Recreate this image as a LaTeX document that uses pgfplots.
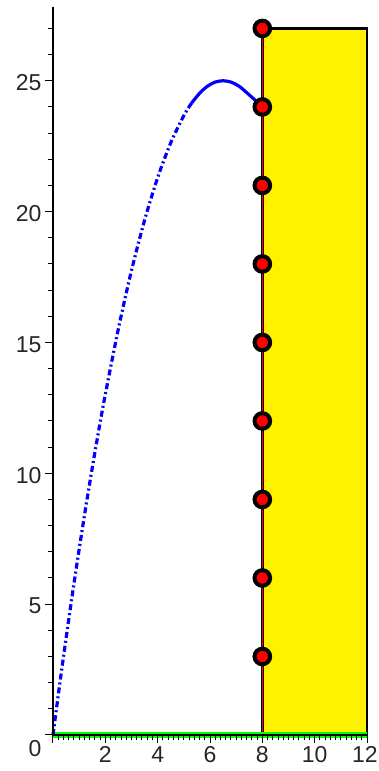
\documentclass[border=0pt]{standalone}
\usepackage{fontspec}
\setmainfont{Liberation Sans}
\usepackage{pgfplots}
\pgfplotsset{compat=1.18}
\begin{document}
\begin{tikzpicture}
\begin{axis}[
  at={(0,0)}, anchor=south west,
  scale only axis, width=314pt, height=727.5pt,
  xmin=0, xmax=12, ymin=0, ymax=27.8,
  axis lines=left, axis line style={-, line width=1.5pt},
  xtick={0,2,...,12}, xticklabels={,2,4,6,8,10,\hspace*{-4pt}12},
  ytick={0,5,...,25}, yticklabels={,5,10,15,20,25},
  minor xtick={0,0.2,...,12.1},
  minor ytick={0,1,...,27},
  extra y ticks={0}, extra y tick labels={0},
  extra y tick style={yticklabel style={yshift=-12pt}},
  yticklabel style={yshift=-2pt},
  tick align=outside, major tick length=8pt, minor tick length=5pt,
  tick style={black, line width=1pt},
  ticklabel style={font=\fontsize{23}{23}\selectfont, text=black!85},
  /pgf/number format/assume math mode=true,
  clip=false, axis on top,
]
\addplot[fill=yellow, draw=black, line width=2.5pt] coordinates {(8,0) (12,0) (12,27) (8,27) (8,0)};
\addplot[red, line width=1.6pt] coordinates {(8,0) (8,27)};
\addplot[color={rgb,255:red,0;green,255;blue,0}, line width=6.5pt] coordinates {(0,0) (12,0)};
\addplot[blue, line width=3.2pt, smooth, dash pattern=on 6pt off 3pt on 2pt off 3pt] coordinates {
(0,0) (0.25,1.89) (0.5,3.70) (0.75,5.44) (1,7.10) (1.25,8.69) (1.5,10.21) (1.75,11.65)
(2,13.02) (2.5,15.53) (3,17.75) (3.5,19.67) (4,21.30) (4.5,22.63) (5,23.67) (5.3,24.15)};
\addplot[blue, line width=3.2pt, smooth] coordinates {
(5.3,24.15) (5.6,24.52) (5.9,24.79) (6.2,24.95) (6.5,25.0) (6.8,24.95) (7.1,24.8) (7.4,24.55) (7.7,24.28) (8,24.0)};
\addplot[only marks, mark=*, mark size=7.8pt, mark options={fill=red, draw=black, line width=4pt}] coordinates {
(8,3) (8,6) (8,9) (8,12) (8,15) (8,18) (8,21) (8,24) (8,27)};
\end{axis}
\pgfresetboundingbox
\path[use as bounding box] (-53pt,-36pt) rectangle (325pt,735pt);
\end{tikzpicture}
\end{document}
